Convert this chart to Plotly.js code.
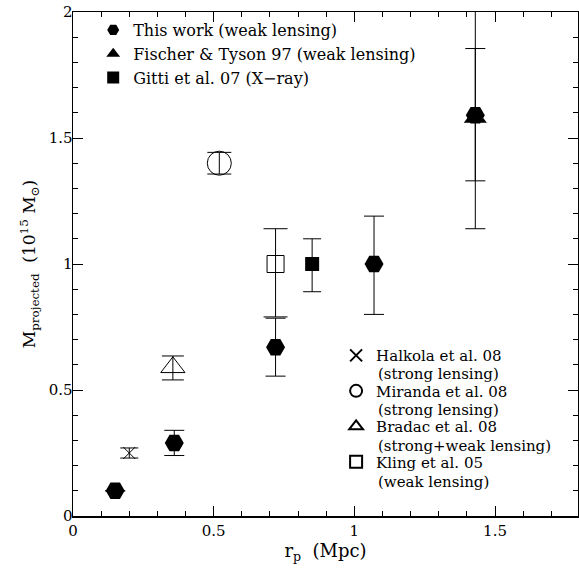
<!DOCTYPE html>
<html>
<head>
<meta charset="utf-8">
<script src="https://cdn.plot.ly/plotly-3.0.1.min.js"></script>
<style>html,body{margin:0;padding:0;background:#fff;}#chart{width:579px;height:573px;}</style>
</head>
<body>
<div id="chart"></div>
<script>
// This work (weak lensing)
const thisWorkR = [0.15, 0.36, 0.72, 1.07, 1.43];
const thisWorkM = [0.10, 0.29, 0.67, 1.00, 1.59];
const thisWorkUp = [0, 0.05, 0.115, 0.19, 0.265];
const thisWorkDn = [0, 0.05, 0.115, 0.20, 0.45];
// Fischer & Tyson 97 (weak lensing)
const fischerR = [1.43];
const fischerM = [1.58];
const fischerUp = [0.6];
const fischerDn = [0.25];
// Gitti et al. 07 (X-ray)
const gittiR = [0.85];
const gittiM = [1.00];
const gittiUp = [0.10];
const gittiDn = [0.11];
// Halkola et al. 08 (strong lensing)
const halkolaR = [0.20];
const halkolaM = [0.25];
const halkolaErr = [0.02];
// Miranda et al. 08 (strong lensing)
const mirandaR = [0.52];
const mirandaM = [1.40];
const mirandaErr = [0.043];
// Bradac et al. 08 (strong+weak lensing)
const bradacR = [0.355];
const bradacM = [0.59];
const bradacUp = [0.045];
const bradacDn = [0.05];
// Kling et al. 05 (weak lensing)
const klingR = [0.72];
const klingM = [1.00];
const klingUp = [0.14];
const klingDn = [0.21];

// legend texts (first line, second line)
const legendTop = ['This work (weak lensing)', 'Fischer &amp; Tyson 97 (weak lensing)', 'Gitti et al. 07 (X\u2212ray)'];
const legendLine1 = ['Halkola et al. 08', 'Miranda et al. 08', 'Bradac et al. 08', 'Kling et al. 05'];
const legendLine2 = ['(strong lensing)', '(strong lensing)', '(strong+weak lensing)', '(weak lensing)'];

const FONT = 'DejaVu Serif';
function err(up, dn, w) {
  return {type: 'data', symmetric: false, array: up, arrayminus: dn, color: '#000', thickness: 1, width: w};
}
const openLine = {width: 1, color: '#000'};

const traces = [
  {x: fischerR, y: fischerM, name: legendTop[1], legendrank: 2, mode: 'markers', type: 'scatter', legend: 'legend',
   marker: {symbol: 'triangle-up', size: 20, color: '#000'}, error_y: err(fischerUp, fischerDn, 10)},
  {x: thisWorkR, y: thisWorkM, name: legendTop[0], legendrank: 1, mode: 'markers', type: 'scatter', legend: 'legend',
   marker: {symbol: 'hexagon2', size: 19, color: '#000'}, error_y: err(thisWorkUp, thisWorkDn, 10)},
  {x: gittiR, y: gittiM, name: legendTop[2], legendrank: 3, mode: 'markers', type: 'scatter', legend: 'legend',
   marker: {symbol: 'square', size: 14, color: '#000'}, error_y: err(gittiUp, gittiDn, 9)},
  {x: halkolaR, y: halkolaM, name: legendLine1[0], legendgroup: 'h', mode: 'markers', type: 'scatter', legend: 'legend2',
   marker: {symbol: 'x-thin-open', size: 12, color: '#000', line: openLine}, error_y: err(halkolaErr, halkolaErr, 9)},
  {x: mirandaR, y: mirandaM, name: legendLine1[1], legendgroup: 'm', mode: 'markers', type: 'scatter', legend: 'legend2',
   marker: {symbol: 'circle-open', size: 24, color: '#000', line: openLine}, error_y: err(mirandaErr, mirandaErr, 12)},
  {x: bradacR, y: bradacM, name: legendLine1[2], legendgroup: 'b', mode: 'markers', type: 'scatter', legend: 'legend2',
   marker: {symbol: 'triangle-up-open', size: 21, color: '#000', line: openLine}, error_y: err(bradacUp, bradacDn, 11)},
  {x: klingR, y: klingM, name: legendLine1[3], legendgroup: 'k', mode: 'markers', type: 'scatter', legend: 'legend2',
   marker: {symbol: 'square-open', size: 17, color: '#000', line: openLine}, error_y: err(klingUp, klingDn, 12)}
];

const axisCommon = {
  showgrid: false, zeroline: false, showline: true, linecolor: '#000', linewidth: 1.5,
  mirror: 'ticks', ticks: 'inside', ticklen: 10, tickwidth: 1, tickcolor: '#000',
  tick0: 0, dtick: 0.5,
  tickfont: {family: FONT, size: 15, color: '#000'},
  minor: {dtick: 0.1, ticks: 'inside', ticklen: 5, tickwidth: 1, tickcolor: '#000', showgrid: false}
};

// second lines of the lower legend, placed under each entry
const line2Y0 = 0.282, line2Step = 0.0714;
const annotations = legendLine2.map((t, i) => ({
  text: t, xref: 'paper', yref: 'paper', x: 0.604, y: line2Y0 - i * line2Step,
  xanchor: 'left', yanchor: 'middle', showarrow: false, borderpad: 0, borderwidth: 0,
  font: {family: FONT, size: 15, color: '#000'}
}));

const layout = {
  width: 579, height: 573,
  margin: {l: 73, r: 1, t: 12, b: 57},
  paper_bgcolor: '#fff', plot_bgcolor: '#fff',
  font: {family: FONT, color: '#000', size: 16},
  showlegend: true,
  annotations: annotations,
  xaxis: Object.assign({}, axisCommon, {range: [0, 1.795],
    title: {text: 'r<sub>p</sub>&nbsp; (Mpc)', font: {family: FONT, size: 18}, standoff: 6}}),
  yaxis: Object.assign({}, axisCommon, {range: [0, 2], ticklabelstandoff: -4,
    title: {text: 'M<sub>projected</sub>&nbsp; (10<sup>15</sup> M<sub>\u2299</sub>)', font: {family: FONT, size: 17}, standoff: 8}}),
  legend: {x: 0.04, y: 0.998, xanchor: 'left', yanchor: 'top', bgcolor: 'rgba(0,0,0,0)',
    font: {family: FONT, size: 16, color: '#000'}, itemsizing: 'constant', traceorder: 'normal',
    tracegroupgap: 0},
  legend2: {x: 0.521, y: 0.351, xanchor: 'left', yanchor: 'top', bgcolor: 'rgba(0,0,0,0)',
    font: {family: FONT, size: 15, color: '#000'}, itemsizing: 'constant', valign: 'middle',
    traceorder: 'grouped', tracegroupgap: 13}
};

Plotly.newPlot('chart', traces, layout, {staticPlot: true, displayModeBar: false});
</script>
</body>
</html>
